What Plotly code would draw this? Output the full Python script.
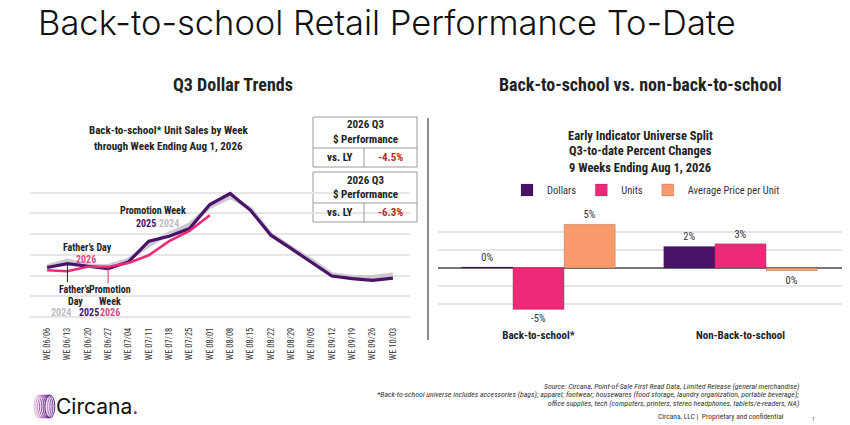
import plotly.graph_objects as go

# weekly back-to-school unit sales index (grid units)
weeks = ['WE 06/06', 'WE 06/13', 'WE 06/20', 'WE 06/27', 'WE 07/04', 'WE 07/11',
         'WE 07/18', 'WE 07/25', 'WE 08/01', 'WE 08/08', 'WE 08/15', 'WE 08/22',
         'WE 08/29', 'WE 09/05', 'WE 09/12', 'WE 09/19', 'WE 09/26', 'WE 10/03']
units_2024 = [2.45, 2.72, 2.5, 2.45, 2.77, 3.46, 4.03, 4.46, 5.31, 5.8,
              5.24, 4.0, 3.35, 2.74, 2.06, 1.93, 1.93, 2.05]
units_2025 = [2.39, 2.58, 2.45, 2.34, 2.66, 3.66, 3.9, 4.27, 5.43, 5.96,
              5.15, 3.95, 3.3, 2.66, 1.98, 1.85, 1.77, 1.88]
units_2026 = [2.26, 2.21, 2.42, 2.42, 2.61, 2.98, 3.66, 4.16, 4.91]

# Q3-to-date percent changes
groups = ['Back-to-school*', 'Non-Back-to-school']
pct_dollars = [0.1, 2.4]
pct_units = [-4.6, 2.7]
pct_avg_price = [4.85, -0.3]

perf_values = ['-4.5%', '-6.3%']

PURPLE = '#4a1268'
PINK = '#ec2a78'
PEACH = '#f89a6c'
GRAY = '#cdc8d2'
TXT = '#222222'
COND = 'Roboto Condensed, Liberation Sans Narrow, DejaVu Sans Condensed, Roboto'

W, H = 850, 425
OFF = 8  # the page body adds an 8px margin


def px(x):
    return (x - OFF) / W


def py(y):
    return 1 - (y - OFF) / H


fig = go.Figure()

# left: line chart
fig.add_trace(go.Scatter(x=weeks, y=units_2024, mode='lines', name='2024',
                         line=dict(color=GRAY, width=4), showlegend=False,
                         xaxis='x', yaxis='y'))
fig.add_trace(go.Scatter(x=weeks, y=units_2025, mode='lines', name='2025',
                         line=dict(color=PURPLE, width=3.2), showlegend=False,
                         xaxis='x', yaxis='y'))
fig.add_trace(go.Scatter(x=weeks[:len(units_2026)], y=units_2026, mode='lines', name='2026',
                         line=dict(color=PINK, width=2.5), showlegend=False,
                         xaxis='x', yaxis='y'))

# right: grouped bars
def pct_text(vals):
    return [f'{round(v)}%' for v in vals]


for name, vals, col in [('Dollars', pct_dollars, PURPLE),
                        ('Units', pct_units, PINK),
                        ('Average Price per Unit', pct_avg_price, PEACH)]:
    fig.add_trace(go.Bar(x=groups, y=vals, name=name, text=pct_text(vals),
                         textposition='outside', cliponaxis=False,
                         textfont=dict(family=COND, size=10.5, color='#333'),
                         marker=dict(color=col, line=dict(color='rgba(0,0,0,0.25)', width=0.6)),
                         xaxis='x2', yaxis='y2'))

fig.update_layout(
    width=W, height=H,
    template='none',
    paper_bgcolor='white', plot_bgcolor='white',
    margin=dict(l=0, r=0, t=0, b=0),
    font=dict(family=COND, color=TXT),
    barmode='group', bargap=0.24, bargroupgap=0,
    xaxis=dict(domain=[px(30), px(410)], range=[-0.84, 17.84], showgrid=False,
               showline=False, zeroline=False, ticks='', tickangle=-90, ticklabelstandoff=8,
               tickfont=dict(family=COND, size=8.5, color='#333'), automargin=False),
    yaxis=dict(domain=[py(317), py(172)], range=[0, 7], dtick=1, showticklabels=False,
               gridcolor='#e6e6e6', gridwidth=1.5, zeroline=True, zerolinecolor='#e6e6e6',
               zerolinewidth=1.5, showline=False, automargin=False),
    xaxis2=dict(domain=[px(437.5), px(841.5)], range=[-0.5, 1.5], showgrid=False,
                showline=False, zeroline=False, ticks='', ticklabelstandoff=10,
                tickfont=dict(family=COND, size=11, color=TXT, weight='bold'),
                automargin=False),
    yaxis2=dict(domain=[py(322), py(214)], range=[-6, 6], dtick=2, showticklabels=False,
                gridcolor='#e6e6e6', gridwidth=1.5, zeroline=True, zerolinecolor='#777',
                zerolinewidth=1.5, showline=False, automargin=False),
    legend=dict(orientation='h', x=px(646), xanchor='center', y=py(190), yanchor='middle',
                font=dict(family=COND, size=10.5, color='#333'), itemwidth=30,
                bgcolor='rgba(0,0,0,0)'),
)

ann = []


def text(x, y, s, size=10, color=TXT, bold=True, xanchor='center', family=COND, italic=False,
         weight=None):
    ann.append(dict(x=px(x), y=py(y), xref='paper', yref='paper', text=s, showarrow=False,
                    xanchor=xanchor, yanchor='middle',
                    font=dict(family=family, size=size, color=color,
                              weight=weight if weight else ('bold' if bold else 'normal'),
                              style='italic' if italic else 'normal')))


# headings
text(36, 23, 'Back-to-school Retail Performance To-Date', size=34.5, color='#111',
     xanchor='left', family='Inter, Lato, Open Sans', weight=300)
text(233, 85, 'Q3 Dollar Trends', size=18)
text(640, 85, 'Back-to-school vs. non-back-to-school', size=18)

# left chart titles
text(168, 130, 'Back-to-school* Unit Sales by Week', size=11)
text(168, 146, 'through Week Ending Aug 1, 2026', size=11)

# right chart titles
text(640, 135, 'Early Indicator Universe Split', size=12.5)
text(640, 151, 'Q3-to-date Percent Changes', size=12.5)
text(640, 167, '9 Weeks Ending Aug 1, 2026', size=12.5)

# line chart call-outs
text(153, 210, 'Promotion Week', size=10)
text(146, 223, '2025', size=10, color=PURPLE)
text(169, 223, '2024', size=10, color='#c0bcc4')
text(87, 247, 'Father\u2019s Day', size=10)
text(86, 259, '2026', size=10, color='#d84a86')
text(75, 289, 'Father\u2019s', size=10)
text(110, 289, 'Promotion', size=10)
text(75, 301, 'Day', size=10)
text(110, 301, 'Week', size=10)
text(61, 312, '2024', size=10, color='#c0bcc4')
text(89, 312, '2025', size=10, color=PURPLE)
text(110, 312, '2026', size=10, color='#d84a86')

# performance boxes
for top, val in zip([117, 172], perf_values):
    text(365, top + 8, '2026 Q3', size=11)
    text(365, top + 22, '$ Performance', size=11)
    text(339, top + 40, 'vs. LY', size=11)
    text(390, top + 40, val, size=11, color='#c0262d')

# footer
foot_lines = [
    'Source: Circana, Point-of-Sale First Read Data, Limited Release (general merchandise)',
    '*Back-to-school universe includes accessories (bags); apparel; footwear; housewares '
    '(food storage, laundry organization, portable beverage);',
    'office supplies, tech (computers, printers, stereo headphones, tablets/e-readers, NA)',
]
for k, line in enumerate(foot_lines):
    text(801, 386 + k * 8.5, line, size=7.8, color='#333', bold=False, italic=True,
         xanchor='right')
text(786, 416, 'Circana, LLC |  Proprietary and confidential', size=7.5, color='#333',
     bold=False, xanchor='right')
text(813, 419, '1', size=5, color='#333', bold=False)

# logo text
ann.append(dict(x=px(54), y=py(406), xref='paper', yref='paper', showarrow=False,
                text='Circana<span style="color:#7a2d8c">.</span>', xanchor='left',
                yanchor='middle', font=dict(family='Inter, Lato', size=21, color='#111')))

fig.update_layout(annotations=ann)

shapes = []
# vertical separator
shapes.append(dict(type='line', xref='paper', yref='paper', x0=px(428), x1=px(428),
                   y0=py(118), y1=py(340), line=dict(color='#666', width=1.5)))
# call-out connectors
shapes.append(dict(type='line', xref='x', yref='y', x0=weeks[1], x1=weeks[1],
                   y0=units_2025[1], y1=1.68, line=dict(color='#222', width=1)))
shapes.append(dict(type='line', xref='x', yref='y', x0=weeks[3], x1=weeks[3],
                   y0=units_2026[3], y1=1.63, line=dict(color=PINK, width=1)))
# performance boxes
for top in [117, 172]:
    shapes.append(dict(type='rect', xref='paper', yref='paper', x0=px(313), x1=px(417),
                       y0=py(top), y1=py(top + 50), fillcolor='white',
                       line=dict(color='#9a9a9a', width=1), layer='below'))
    shapes.append(dict(type='line', xref='paper', yref='paper', x0=px(313), x1=px(417),
                       y0=py(top + 31), y1=py(top + 31), line=dict(color='#9a9a9a', width=1)))
    shapes.append(dict(type='line', xref='paper', yref='paper', x0=px(364), x1=px(364),
                       y0=py(top + 31), y1=py(top + 50), line=dict(color='#9a9a9a', width=1)))
# logo rings
ring_cols = ['#e7b6d6', '#d49ad0', '#bf80c4', '#a766b6', '#8e4ea6', '#743995', '#5b2683']
for k, c in enumerate(ring_cols):
    x0 = 34 + k * 1.8
    shapes.append(dict(type='circle', xref='paper', yref='paper', x0=px(x0), x1=px(x0 + 10),
                       y0=py(395), y1=py(418), line=dict(color=c, width=1)))
fig.update_layout(shapes=shapes)

fig.write_html('out.html')
